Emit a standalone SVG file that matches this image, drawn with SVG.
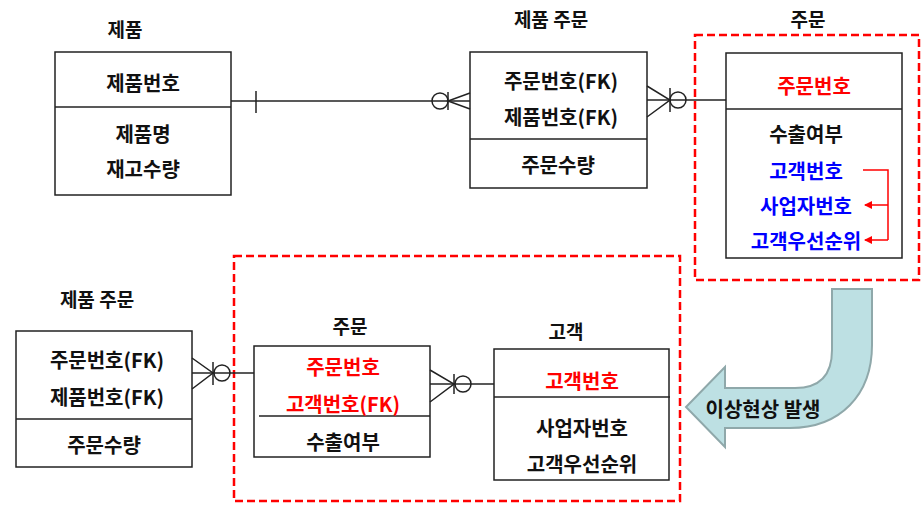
<svg xmlns="http://www.w3.org/2000/svg" width="921" height="510" viewBox="0 0 921 510">
<defs>
<style>
text{font-family:"Noto Sans CJK KR","Noto Sans",sans-serif;font-weight:bold;font-size:20px;text-anchor:middle;dominant-baseline:central;fill:#111}
.t{font-size:19px}
.red{fill:#ff0000}
.blue{fill:#0000ff}
.box{fill:#fff;stroke:#222;stroke-width:1.5}
.div{stroke:#222;stroke-width:1.5}
.ln{stroke:#222;stroke-width:1.5;fill:none}
.dash{fill:none;stroke:#ff0000;stroke-width:2.5;stroke-dasharray:8 4}
</style>
<marker id="ra" markerWidth="8" markerHeight="8" refX="7" refY="4" orient="auto" markerUnits="userSpaceOnUse"><path d="M0,0 L8,4 L0,8 Z" fill="#ff0000"/></marker>
</defs>

<rect class="dash" x="695" y="35" width="224" height="245"/>
<rect class="dash" x="234" y="256" width="446" height="245"/>

<g id="product">
  <text class="t" x="125" y="28">제품</text>
  <rect class="box" x="55" y="52" width="176" height="143"/>
  <line class="div" x1="55" y1="107" x2="231" y2="107"/>
  <text x="143" y="82">제품번호</text>
  <text x="143" y="133">제품명</text>
  <text x="143" y="168">재고수량</text>
</g>

<g id="orderitem-top">
  <text class="t" x="551" y="18">제품 주문</text>
  <rect class="box" x="470" y="52" width="177" height="136"/>
  <line class="div" x1="470" y1="139" x2="647" y2="139"/>
  <text x="561" y="80">주문번호(FK)</text>
  <text x="561" y="116">제품번호(FK)</text>
  <text x="558" y="164">주문수량</text>
</g>

<g id="order-top">
  <text class="t" x="808" y="18">주문</text>
  <rect class="box" x="726" y="53" width="176" height="205"/>
  <line class="div" x1="726" y1="109" x2="902" y2="109"/>
  <text class="red" x="814" y="85">주문번호</text>
  <text x="806" y="133">수출여부</text>
  <text class="blue" x="806" y="170">고객번호</text>
  <text class="blue" x="806" y="205">사업자번호</text>
  <text class="blue" x="806" y="240">고객우선순위</text>
</g>

<g id="orderitem-bottom">
  <text class="t" x="97" y="298">제품 주문</text>
  <rect class="box" x="16" y="331" width="176" height="136"/>
  <line class="div" x1="16" y1="419" x2="192" y2="419"/>
  <text x="107" y="359">주문번호(FK)</text>
  <text x="107" y="396">제품번호(FK)</text>
  <text x="104" y="444">주문수량</text>
</g>

<g id="order-bottom">
  <text class="t" x="350" y="325">주문</text>
  <rect class="box" x="254" y="346" width="176" height="111"/>
  <line class="div" x1="259" y1="416" x2="430" y2="416"/>
  <text class="red" x="343" y="366">주문번호</text>
  <text class="red" x="343" y="403">고객번호(FK)</text>
  <text x="343" y="441">수출여부</text>
</g>

<g id="customer">
  <text class="t" x="566" y="330">고객</text>
  <rect class="box" x="494" y="349" width="175" height="131"/>
  <line class="div" x1="494" y1="397" x2="670" y2="397"/>
  <text class="red" x="582" y="380">고객번호</text>
  <text x="582" y="427">사업자번호</text>
  <text x="582" y="463">고객우선순위</text>
</g>

<g id="connectors">
  <line class="ln" x1="231" y1="101" x2="470" y2="101"/>
  <line class="ln" x1="256" y1="91" x2="256" y2="113"/>
  <circle class="ln" cx="440" cy="101" r="8"/>
  <line class="ln" x1="448" y1="92" x2="448" y2="110"/>
  <path class="ln" d="M470,93 L448,101 L470,109"/>

  <line class="ln" x1="647" y1="100" x2="726" y2="100"/>
  <path class="ln" d="M647,86 L670,100 L647,117"/>
  <line class="ln" x1="670" y1="88" x2="670" y2="112"/>
  <circle class="ln" cx="678" cy="100" r="8"/>

  <line class="ln" x1="192" y1="373" x2="254" y2="373"/>
  <path class="ln" d="M192,358 L213,373 L192,389"/>
  <line class="ln" x1="213" y1="362" x2="213" y2="385"/>
  <circle class="ln" cx="222" cy="373" r="8"/>

  <line class="ln" x1="430" y1="384" x2="494" y2="384"/>
  <path class="ln" d="M430,370 L454,384 L430,402"/>
  <line class="ln" x1="454" y1="374" x2="454" y2="394"/>
  <circle class="ln" cx="463" cy="384" r="8"/>

  <path fill="none" stroke="#ff0000" stroke-width="1.5" d="M863,170 L888,170 L888,240"/>
  <line x1="888" y1="205" x2="865" y2="205" stroke="#ff0000" stroke-width="1.5" marker-end="url(#ra)"/>
  <line x1="888" y1="240" x2="865" y2="240" stroke="#ff0000" stroke-width="1.5" marker-end="url(#ra)"/>
</g>

<g id="anomaly-arrow">
  <path d="M832,289 L872,289 L872,345 C872,395 840,428 790,428 L725,428 L725,447 L686,407 L725,367 L725,388 L795,388 C820,388 832,375 832,350 Z" fill="#bde0e3" stroke="#8fa8aa" stroke-width="2"/>
  <text x="763" y="408">이상현상 발생</text>
</g>
</svg>
